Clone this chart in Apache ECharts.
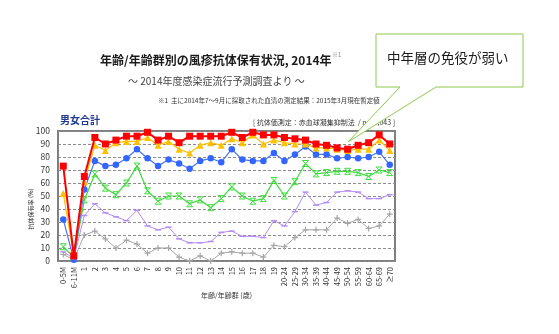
<!DOCTYPE html>
<html><head><meta charset="utf-8">
<script src="https://cdn.jsdelivr.net/npm/echarts@6/dist/echarts.min.js"></script>
<style>html,body{margin:0;padding:0;background:#fff}#c{width:559px;height:334px}</style>
</head><body><div id="c"></div>
<script>
const categories = ['0-5M','6-11M','1','2','3','4','5','6','7','8','9','10','11','12','13','14','15','16','17','18','19','20-24','25-29','30-34','35-39','40-44','45-49','50-54','55-59','60-64','65-69','≥70'];
const yTicks = [0,10,20,30,40,50,60,70,80,90,100];
const s8   = [73,4,65,95,90,93,96,96,99,93,96,91,96,96,96,96,99,95,99,97,97,95,94,93,90,89,87,86,89,91,97,90];
const s16  = [52,4,61,89,85,91,92,92,95,89,92,86,83,89,91,89,94,91,97,90,93,91,90,90,87,87,86,85,86,86,93,85];
const s32  = [32,1,55,77,73,74,79,86,79,73,78,75,71,77,79,76,86,78,77,77,83,77,82,88,82,82,79,80,79,80,84,74];
const s64  = [11,3,47,67,56,51,60,73,54,46,50,50,44,47,41,48,57,50,46,48,62,50,61,75,67,68,69,69,68,65,70,68];
const s128 = [7,2,35,44,37,34,31,39,27,24,26,17,14,14,15,22,23,19,19,18,31,27,38,53,43,45,53,54,53,48,48,51];
const s256 = [5,1,20,23,17,10,16,13,6,10,10,3,0,4,0,6,7,6,6,3,12,11,18,24,24,24,33,29,32,25,27,36];
const seriesNames = ['≥1:8','≥1:16','≥1:32','≥1:64','≥1:128','≥1:256'];

const FONT = '"Noto Sans CJK JP", "Noto Sans", sans-serif';
const chart = echarts.init(document.getElementById('c'), null, {renderer:'canvas'});

function mk(name, data, color, symbol, size, lw, itemStyle, z){
  return {name, type:'line', data, symbol, symbolSize:size, showSymbol:true, z,
    lineStyle:{color, width:lw}, itemStyle: itemStyle || {color}, emphasis:{disabled:true}, animation:false};
}
const plusPath = 'path://M4,0L6,0L6,4L10,4L10,6L6,6L6,10L4,10L4,6L0,6L0,4L4,4Z';
const hourPath = 'path://M0,0L10,0L0,10L10,10Z';

chart.setOption({
  animation:false,
  textStyle:{fontFamily:FONT},
  grid:{left:58, right:164, top:131, bottom:73, show:true, borderColor:'#7f7f7f', borderWidth:2, backgroundColor:'transparent'},
  xAxis:{type:'category', data:categories, boundaryGap:true,
    name:'年齢/年齢群 (歳)', nameLocation:'middle', nameGap:28,
    nameTextStyle:{fontSize:7, color:'#333', fontFamily:FONT},
    axisLine:{show:false}, axisTick:{show:false}, splitLine:{show:false},
    axisLabel:{rotate:90, fontSize:7.5, color:'#333', margin:6, interval:0, fontFamily:FONT}},
  yAxis:{type:'value', min:0, max:100, interval:10,
    axisLine:{show:false}, axisTick:{show:false},
    splitLine:{show:true, lineStyle:{color:'#8c8c8c', type:[3,2], width:1}},
    axisLabel:{fontSize:8.5, color:'#333', margin:8, fontFamily:FONT,
      formatter: v => yTicks.indexOf(v) >= 0 ? String(v) : ''}},
  series:[
    mk(seriesNames[5], s256, '#a6a6a6', plusPath, 6, 1, {color:'#a6a6a6'}, 2),
    mk(seriesNames[4], s128, '#b58cf2', 'rect', [6,1.5], 1, {color:'#b58cf2'}, 3),
    mk(seriesNames[3], s64, '#3ddc3d', hourPath, 6, 1.2, {color:'rgba(0,0,0,0)', borderColor:'#3ddc3d', borderWidth:1}, 4),
    mk(seriesNames[2], s32, '#4a74f0', 'circle', 6.5, 1.2, {color:'#3366ff'}, 5),
    mk(seriesNames[1], s16, '#ffc000', 'triangle', 7, 1.2, {color:'#ffc000'}, 6),
    mk(seriesNames[0], s8, '#ff0000', 'rect', 7, 2, {color:'#ff0000'}, 7)
  ],
  graphic:[
    {type:'text', left:100, top:54, z:50, style:{text:'年齢/年齢群別の風疹抗体保有状況, 2014年', font:'bold 12px '+FONT, fill:'#1a1a1a'}},
    {type:'text', left:332, top:52, z:50, style:{text:'※1', font:'6px '+FONT, fill:'#888'}},
    {type:'text', left:128, top:76, z:50, style:{text:'～ 2014年度感染症流行予測調査より ～', font:'10px '+FONT, fill:'#444'}},
    {type:'text', left:158, top:97, z:50, style:{text:'※1  主に2014年7～9月に採取された血清の測定結果：2015年3月現在暫定値', font:'6.5px '+FONT, fill:'#333'}},
    {type:'text', left:60, top:115, z:50, style:{text:'男女合計', font:'bold 10px '+FONT, fill:'#1f3a93'}},
    {type:'text', right:164, top:119, z:50, style:{text:'[ 抗体価測定：赤血球凝集抑制法  / n = 6,043 ]', font:'7px '+FONT, fill:'#333', textAlign:'right'}},
    {type:'text', x:31, y:209, rotation:Math.PI/2, z:50, style:{text:'抗体保有率 (%)', font:'6px '+FONT, fill:'#333', textAlign:'center', textVerticalAlign:'middle'}},
    {type:'polygon', z:100, shape:{points:[[376,34],[523,34],[523,87],[436,87],[348,142],[400,87],[376,87]]},
      style:{fill:'#ffffff', stroke:'#8cc84b', lineWidth:1}},
    {type:'text', left:387, top:51, z:101, style:{text:'中年層の免役が弱い', font:'13.5px '+FONT, fill:'#1a1a1a'}}
  ]
});
</script></body></html>
